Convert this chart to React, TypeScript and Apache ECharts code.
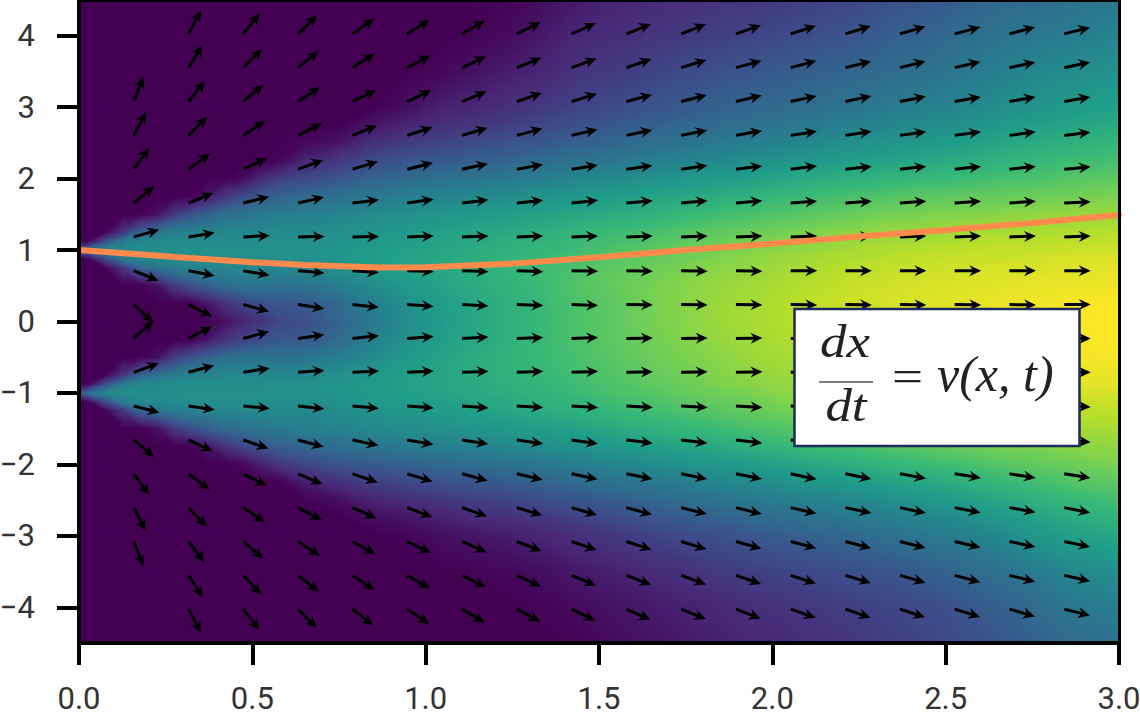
import React, { useEffect, useRef } from "react";
import * as echarts from "echarts";

// Times (along the horizontal axis) at which colour values were read
const heatTimes = [0, 0.025, 0.075, 0.125, 0.175, 0.225, 0.275, 0.325, 0.375, 0.425, 0.475, 0.525, 0.575, 0.65, 0.75, 0.85, 0.95, 1.05, 1.15, 1.25, 1.35, 1.45, 1.55, 1.65, 1.75, 1.85, 1.95, 2.05, 2.15, 2.25, 2.35, 2.45, 2.55, 2.65, 2.75, 2.85, 3];
// Rows at which colour values were read, top to bottom
const rowValues = [4.5, 4, 3.5, 3, 2.75, 2.5, 2.25, 2, 1.75, 1.5, 1.25, 1.125, 1, 0.875, 0.75, 0.5, 0.25, 0, -0.25, -0.5, -0.75, -0.875, -1, -1.125, -1.25, -1.5, -1.75, -2, -2.25, -2.5, -2.75, -3, -3.5, -4, -4.5];
// Colour position (0..100 on the viridis scale) for each time, per row
const heatColumns = [
  [0,0,0,0,0,0,0,0,0,0, 0,0,26,0,0, 0,0,0,0,0, 0,0,26,0,0, 0,0,0,0,0,0,0,0,0,0],
  [0,0,0,0,0,0,0,0,0,0, 0,0,36,0,0, 0,0,0,0,0, 0,0,36,0,0, 0,0,0,0,0,0,0,0,0,0],
  [0,0,0,0,0,0,0,0,0,0, 0,23,46,23,0, 0,0,0,0,0, 0,23,46,23,0, 0,0,0,0,0,0,0,0,0,0],
  [0,0,0,0,0,0,0,0,0,0, 15,41,48,41,15, 0,0,0,0,0, 15,41,48,41,15, 0,0,0,0,0,0,0,0,0,0],
  [0,0,0,0,0,0,0,0,0,0, 32,46,49,46,32, 0,0,0,0,0, 32,46,49,46,32, 0,0,0,0,0,0,0,0,0,0],
  [0,0,0,0,0,0,0,0,0,4, 38,47,49,47,38, 4,0,0,0,4, 38,47,49,47,38, 4,0,0,0,0,0,0,0,0,0],
  [0,0,0,0,0,0,0,0,0,17, 42,48,50,48,42, 17,0,0,0,17, 42,48,50,48,42, 17,0,0,0,0,0,0,0,0,0],
  [0,0,0,0,0,0,0,0,0,26, 44,49,50,49,44, 26,0,0,0,26, 44,49,50,49,44, 25,0,0,0,0,0,0,0,0,0],
  [0,0,0,0,0,0,0,0,8,31, 45,49,50,49,45, 31,6,1,6,31, 45,49,50,49,45, 30,6,0,0,0,0,0,0,0,0],
  [0,0,0,0,0,0,0,0,17,36, 46,49,50,49,46, 36,15,5,15,36, 46,49,50,49,46, 35,15,0,0,0,0,0,0,0,0],
  [0,0,0,0,0,0,0,3,23,38, 47,49,50,49,47, 38,20,10,20,38, 47,49,50,49,47, 37,21,2,0,0,0,0,0,0,0],
  [0,0,0,0,0,0,0,12,28,40, 47,49,50,49,46, 38,24,15,24,38, 46,49,50,49,47, 39,26,9,0,0,0,0,0,0,0],
  [0,0,0,0,0,0,1,18,32,42, 48,50,51,50,46, 37,27,21,27,37, 46,50,51,49,47, 41,30,15,0,0,0,0,0,0,0],
  [0,0,0,0,0,2,10,22,34,43, 48,50,51,50,47, 38,28,24,28,38, 47,50,51,49,47, 43,33,21,8,0,0,0,0,0,0],
  [0,0,0,0,0,6,16,27,37,45, 50,51,52,52,50, 42,34,32,34,42, 50,52,52,50,48, 45,36,26,14,4,0,0,0,0,0],
  [0,0,0,0,6,14,23,32,40,48, 52,53,55,55,54, 48,43,41,43,48, 53,54,54,53,51, 47,39,29,19,10,3,0,0,0,0],
  [0,0,0,4,10,18,26,35,43,50, 54,56,57,58,57, 54,50,49,50,54, 56,57,56,55,53, 49,41,31,22,13,6,1,0,0,0],
  [0,0,2,9,14,20,28,37,45,52, 57,58,59,60,60, 58,56,55,56,58, 59,59,58,57,55, 50,43,34,25,16,9,4,0,0,0],
  [0,1,5,11,16,23,30,39,47,54, 59,60,62,63,63, 62,60,60,60,62, 62,61,61,59,57, 52,45,36,27,19,12,6,1,0,0],
  [1,3,8,14,19,26,32,41,49,56, 61,63,64,65,66, 65,64,64,64,65, 65,64,63,61,60, 54,47,38,29,21,14,8,2,0,0],
  [4,7,11,17,22,28,35,43,51,58, 63,65,66,68,69, 69,68,68,68,68, 67,66,65,64,62, 56,49,40,32,24,17,11,4,1,0],
  [8,11,15,21,25,31,38,46,53,60, 66,68,69,71,72, 73,72,72,72,71, 70,69,68,66,64, 58,51,43,35,27,20,14,7,3,1],
  [10,13,17,23,28,33,40,48,55,62, 68,70,72,73,75, 76,75,75,75,74, 73,72,71,69,67, 61,54,46,38,30,23,17,9,5,3],
  [12,15,20,26,30,36,43,50,58,64, 70,72,74,76,77, 79,79,79,78,77, 76,75,73,71,69, 64,56,48,40,33,26,20,12,7,5],
  [13,17,23,28,33,38,45,53,60,67, 73,75,77,78,80, 82,82,82,81,80, 78,77,76,74,72, 66,59,51,43,36,29,23,14,9,7],
  [15,19,25,31,35,41,47,55,62,69, 75,77,79,81,82, 84,85,85,84,82, 81,80,78,76,74, 68,61,53,46,38,31,25,17,11,9],
  [16,21,27,33,37,43,50,57,65,71, 77,79,81,83,84, 86,87,87,86,85, 83,82,80,78,76, 71,64,56,48,41,34,28,19,13,11],
  [18,23,29,35,40,45,52,60,67,73, 79,81,83,85,86, 88,89,89,88,87, 85,84,83,81,79, 73,67,58,51,43,36,30,21,15,12],
  [20,25,31,37,42,48,54,62,69,75, 81,83,85,87,88, 90,91,91,90,89, 87,86,85,83,81, 75,69,61,53,45,38,32,23,17,14],
  [22,27,33,39,44,50,56,64,71,77, 83,85,87,88,90, 92,93,93,92,91, 89,88,87,85,83, 77,71,63,55,47,41,34,25,19,16],
  [25,30,35,42,46,52,58,65,73,79, 84,86,88,90,91, 93,94,94,94,93, 91,90,88,87,85, 79,73,66,58,50,43,37,27,21,19],
  [27,32,37,44,48,54,60,67,74,80, 85,87,89,91,92, 94,95,96,95,94, 92,91,90,88,86, 81,75,68,60,53,46,40,30,23,21],
  [30,35,40,46,50,56,62,68,75,81, 86,88,90,92,93, 95,96,97,96,95, 94,93,91,89,87, 83,77,70,63,56,49,43,33,26,24],
  [33,38,43,49,53,59,64,70,76,82, 87,89,91,92,94, 96,97,98,97,97, 95,94,92,90,88, 84,79,73,66,60,53,47,37,30,27],
  [35,40,46,51,56,61,66,71,77,83, 87,89,91,93,94, 97,98,99,98,98, 96,95,93,91,89, 85,80,75,69,63,57,52,41,34,31],
  [37,42,48,54,58,63,68,73,78,84, 88,90,92,94,95, 97,99,99,99,98, 97,96,94,92,90, 86,82,77,72,66,61,56,46,39,34],
  [40,45,51,57,61,66,70,75,80,85, 89,91,93,95,96, 98,100,100,100,99, 97,96,94,92,90, 87,83,80,75,70,65,60,50,43,37],
];
const viridis = ["#440154", "#482878", "#3e4989", "#31688e", "#26828e", "#1f9e89", "#35b779", "#6ece58", "#b5de2b", "#fde725"];

// Quiver: tails on this grid
const arrowTimes = [0.158, 0.316, 0.474, 0.632, 0.789, 0.947, 1.105, 1.263, 1.421, 1.579, 1.737, 1.895, 2.053, 2.211, 2.368, 2.526, 2.684, 2.842];
const arrowRows = [4.026, 3.553, 3.079, 2.605, 2.132, 1.658, 1.184, 0.711, 0.237, -0.237, -0.711, -1.184, -1.658, -2.132, -2.605, -3.079, -3.553, -4.026];
// Direction on screen, degrees above horizontal, one list per arrowTimes entry
const arrowAngles = [
  [null, null, 69, 62, 54, 40, 16, -22, -42, 42, 20, -14, -40, -54, -63, -69, null, null],
  [62, 58, 52, 45, 36, 22, 9, -11, -27, 27, 15, -8, -25, -37, -46, -53, -57, -62],
  [51, 45, 40, 34, 25, 14, 3, -10, -15, 15, 9, -5, -19, -27, -34, -41, -47, -52],
  [44, 39, 33, 27, 20, 13, 1, -5, -9, 8, 4, -6, -15, -23, -28, -33, -38, -45],
  [35, 32, 26, 22, 17, 7, 1, -4, -6, 6, 3, -5, -12, -19, -24, -29, -34, -38],
  [32, 28, 25, 18, 14, 8, 2, -2, -4, 4, 3, -4, -10, -17, -21, -26, -30, -34],
  [30, 25, 22, 16, 12, 7, 2, -2, -3, 3, 2, -4, -9, -15, -19, -24, -27, -31],
  [26, 22, 19, 15, 10, 6, 2, -2, -2, 2, 2, -3, -8, -13, -17, -21, -25, -28],
  [24, 20, 17, 13, 9, 6, 2, -1, -2, 2, 2, -3, -8, -12, -16, -19, -23, -26],
  [22, 19, 15, 12, 8, 5, 2, -1, -1, 1, 1, -3, -7, -11, -15, -18, -21, -24],
  [21, 17, 14, 11, 8, 5, 2, -1, -1, 1, 1, -3, -7, -11, -14, -17, -20, -22],
  [19, 15, 13, 10, 7, 5, 2, -1, -1, 1, 1, -3, -7, -11, -14, -16, -19, -21],
  [18, 15, 12, 9, 7, 4, 2, 0, -1, 0, 0, -3, -6, -12, -13, -15, -18, -19],
  [17, 14, 12, 9, 6, 4, 2, 0, -1, 0, 0, -3, -6, -11, -12, -15, -17, -19],
  [16, 14, 11, 8, 6, 4, 2, 0, -1, 0, 0, -3, -6, -10, -12, -14, -16, -18],
  [15, 13, 10, 8, 6, 4, 2, 0, -1, 0, 0, -3, -6, -9, -11, -13, -15, -17],
  [15, 12, 10, 8, 6, 4, 2, 0, -1, 0, 0, -2, -6, -9, -10, -12, -14, -16],
  [14, 12, 10, 7, 5, 3, 2, 0, 0, 0, 0, -2, -5, -9, -11, -12, -13, -14],
];

// Orange trajectory
const pathT = [0, 0.16, 0.32, 0.5, 0.65, 0.865, 1, 1.25, 1.5, 1.75, 2, 2.25, 2.5, 2.75, 3];
const pathX = [1, 0.945, 0.89, 0.83, 0.79, 0.755, 0.76, 0.81, 0.9, 1, 1.09, 1.19, 1.28, 1.38, 1.49];

const yTicks = [-4, -3, -2, -1, 0, 1, 2, 3, 4];

function viridisAt(v: number): string {
  const f = (Math.max(0, Math.min(100, v)) / 100) * (viridis.length - 1);
  const i = Math.min(viridis.length - 2, Math.floor(f));
  return echarts.color.lerp(f - i, [viridis[i], viridis[i + 1]]) as string;
}

// Colour a triangle whose corners carry colour positions: the colour varies linearly across it
function shadedFill(p: number[][], v: number[]): any {
  const lo = Math.min(v[0], v[1], v[2]);
  const hi = Math.max(v[0], v[1], v[2]);
  if (hi - lo < 0.01) return viridisAt(lo);
  const [x1, y1] = p[0];
  const ax = p[1][0] - x1, ay = p[1][1] - y1, bx = p[2][0] - x1, by = p[2][1] - y1;
  const dv1 = v[1] - v[0], dv2 = v[2] - v[0];
  const det = ax * by - ay * bx;
  const gx = (dv1 * by - dv2 * ay) / det;
  const gy = (dv2 * ax - dv1 * bx) / det;
  const g2 = gx * gx + gy * gy;
  const iLo = v.indexOf(lo);
  const sx = p[iLo][0], sy = p[iLo][1];
  const ex = sx + (gx / g2) * (hi - lo), ey = sy + (gy / g2) * (hi - lo);
  const stops = [{ offset: 0, color: viridisAt(lo) }];
  const step = 100 / (viridis.length - 1);
  for (let k = Math.ceil(lo / step + 1e-6); k * step < hi - 1e-6; k++) {
    stops.push({ offset: (k * step - lo) / (hi - lo), color: viridis[k] });
  }
  stops.push({ offset: 1, color: viridisAt(hi) });
  return new echarts.graphic.LinearGradient(sx, sy, ex, ey, stops, true);
}

const arrowLen = 26.5;
function arrowPoints(px: number, py: number, deg: number): number[][] {
  const a = (deg * Math.PI) / 180;
  const ux = Math.cos(a);
  const uy = -Math.sin(a);
  const local = [
    [0, -1.5], [arrowLen - 9, -1.5], [arrowLen - 12, -5.5], [arrowLen, 0],
    [arrowLen - 12, 5.5], [arrowLen - 9, 1.5], [0, 1.5],
  ];
  return local.map(([u, w]) => [px + u * ux - w * uy, py + u * uy + w * ux]);
}

export default function App() {
  const ref = useRef<HTMLDivElement>(null);
  useEffect(() => {
    const chart = echarts.init(ref.current!, null, { renderer: "svg" });
    const labelFont = { fontFamily: "Roboto", fontSize: 31, color: "#333333" };
    const axisLineStyle = { color: "#000000", width: 4 };
    const arrowData: any[] = [];
    arrowTimes.forEach((t, i) =>
      arrowRows.forEach((y, j) => {
        const a = arrowAngles[i][j];
        if (a !== null) arrowData.push([t, y, a]);
      })
    );
    const cells: number[][] = [];
    for (let i = 0; i < heatTimes.length - 1; i++) {
      for (let j = 0; j < rowValues.length - 1; j++) cells.push([heatTimes[i], rowValues[j], i, j]);
    }
    chart.setOption({
      animation: false,
      grid: { left: 79, top: 0, width: 1040, height: 643, outerBoundsMode: "none" },
      xAxis: [
        {
          type: "value", min: 0, max: 3, interval: 0.5, z: 10,
          axisLine: { onZero: false, lineStyle: axisLineStyle },
          axisTick: { length: 22, lineStyle: axisLineStyle },
          axisLabel: { ...labelFont, margin: 40, formatter: (v: number) => v.toFixed(1), hideOverlap: false, showMinLabel: true, showMaxLabel: true },
          splitLine: { show: false },
        },
        {
          type: "value", min: 0, max: 3, position: "top", z: 10,
          axisLine: { show: true, onZero: false, lineStyle: axisLineStyle },
          axisTick: { show: false }, axisLabel: { show: false }, splitLine: { show: false },
        },
      ],
      yAxis: [
        {
          type: "value", min: -4.5, max: 4.5, z: 10,
          axisLine: { show: true, onZero: false, lineStyle: axisLineStyle },
          axisTick: { show: true, length: 22, lineStyle: axisLineStyle, customValues: yTicks },
          axisLabel: { ...labelFont, margin: 44, customValues: yTicks, formatter: (v: number) => String(v).replace("-", "\u2212") },
          splitLine: { show: false },
        },
        {
          type: "value", min: -4.5, max: 4.5, position: "right", z: 10,
          axisLine: { show: true, onZero: false, lineStyle: { color: "#000000", width: 3 } },
          axisTick: { show: false }, axisLabel: { show: false }, splitLine: { show: false },
        },
      ],
      series: [
        {
          // Backing strips, so that nothing light shows through where the shaded triangles meet
          type: "custom",
          name: "density backing",
          silent: true,
          z: 1,
          clip: false,
          data: heatTimes.slice(0, -1).map((t, i) => [t, heatTimes[i + 1], i]),
          encode: { x: [0, 1] },
          renderItem: (_p: any, api: any) => {
            const i = api.value(2);
            const a = api.coord([api.value(0), 4.5]);
            const b = api.coord([api.value(1), -4.5]);
            const colorStops = rowValues.map((y, r) => ({
              offset: (4.5 - y) / 9,
              color: viridisAt((heatColumns[i][r] + heatColumns[i + 1][r]) / 2),
            }));
            return {
              type: "rect",
              shape: { x: a[0], y: a[1], width: b[0] - a[0] + 0.6, height: b[1] - a[1] },
              style: { fill: new echarts.graphic.LinearGradient(0, 0, 0, 1, colorStops), stroke: null },
            };
          },
        },
        {
          type: "custom",
          name: "density",
          silent: true,
          z: 2,
          clip: false,
          data: cells,
          encode: { x: 0, y: 1 },
          renderItem: (_p: any, api: any) => {
            const i = api.value(2);
            const j = api.value(3);
            const a = api.coord([heatTimes[i], rowValues[j]]);
            const b = api.coord([heatTimes[i + 1], rowValues[j]]);
            const c = api.coord([heatTimes[i + 1], rowValues[j + 1]]);
            const d = api.coord([heatTimes[i], rowValues[j + 1]]);
            const va = heatColumns[i][j];
            const vb = heatColumns[i + 1][j];
            const vc = heatColumns[i + 1][j + 1];
            const vd = heatColumns[i][j + 1];
            // Split along the diagonal whose two ends are closest in colour
            const useAC = Math.abs(va - vc) <= Math.abs(vb - vd);
            const tris = useAC
              ? [[[a, b, c], [va, vb, vc]], [[a, c, d], [va, vc, vd]]]
              : [[[a, b, d], [va, vb, vd]], [[b, c, d], [vb, vc, vd]]];
            return {
              type: "group",
              children: tris.map(([pts, vals]: any) => ({
                type: "polygon",
                shape: { points: pts },
                style: { fill: shadedFill(pts, vals), stroke: null },
              })),
            };
          },
        },
        {
          type: "custom",
          name: "velocity",
          silent: true,
          z: 3,
          clip: false,
          data: arrowData,
          encode: { x: 0, y: 1 },
          renderItem: (_p: any, api: any) => {
            const p = api.coord([api.value(0), api.value(1)]);
            return {
              type: "polygon",
              shape: { points: arrowPoints(p[0], p[1], api.value(2)) },
              style: { fill: "#000000", stroke: null },
            };
          },
        },
        {
          type: "line",
          name: "trajectory",
          z: 4,
          showSymbol: false,
          symbol: "none",
          data: pathT.map((t, i) => [t, pathX[i]]),
          lineStyle: { color: "#ff8a4c", width: 6, cap: "round" },
        },
      ],
      graphic: {
        elements: [
          { type: "rect", z: 100, shape: { x: 794.5, y: 309, width: 285, height: 137 }, style: { fill: "#ffffff", stroke: "#1c2b5a", lineWidth: 2.5 } },
          { type: "text", z: 101, x: 845, y: 365, scaleX: 1.15, style: { text: "dx", font: "italic 46px 'Liberation Serif'", fill: "#222222", align: "center", verticalAlign: "bottom" } },
          { type: "line", z: 101, shape: { x1: 819, y1: 382, x2: 873, y2: 382 }, style: { stroke: "#555555", lineWidth: 1.5 } },
          { type: "text", z: 101, x: 846, y: 429, scaleX: 1.15, style: { text: "dt", font: "italic 46px 'Liberation Serif'", fill: "#222222", align: "center", verticalAlign: "bottom" } },
          { type: "text", z: 101, x: 892, y: 400, scaleX: 1.2, style: { text: "=", font: "46px 'Liberation Serif'", fill: "#222222", align: "left", verticalAlign: "bottom" } },
          { type: "text", z: 101, x: 937, y: 399, style: { text: "v(x, t)", font: "italic 50px 'Liberation Serif'", fill: "#222222", align: "left", verticalAlign: "bottom" } },
        ],
      },
    });
    return () => chart.dispose();
  }, []);
  return <div ref={ref} style={{ position: "absolute", left: 0, top: 0, width: 1140, height: 717, background: "#ffffff" }} />;
}
